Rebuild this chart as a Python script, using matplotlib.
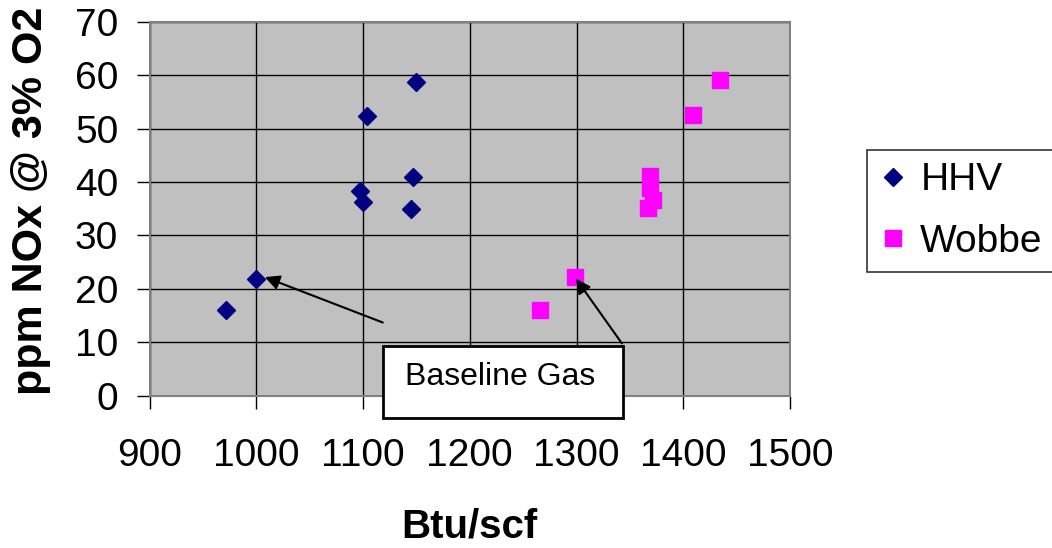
import matplotlib
matplotlib.use("Agg")
import matplotlib.pyplot as plt
from matplotlib.patches import Rectangle

plt.rcParams['font.family'] = ['Liberation Sans', 'DejaVu Sans']

# Data
hhv_x = [972, 1000, 1097, 1100, 1104, 1145, 1147, 1150]
hhv_y = [16.0, 21.9, 38.4, 36.2, 52.3, 34.9, 40.9, 58.8]
wobbe_x = [1266, 1299, 1369, 1369, 1372, 1367, 1409, 1434]
wobbe_y = [16.1, 22.2, 41.2, 38.8, 36.7, 35.1, 52.5, 59.0]
x_ticks = [900, 1000, 1100, 1200, 1300, 1400, 1500]
y_ticks = [0, 10, 20, 30, 40, 50, 60, 70]
series_labels = ["HHV", "Wobbe"]
annotation_text = "Baseline Gas"

W, H = 1052, 548
fig = plt.figure(figsize=(W / 100, H / 100), dpi=100)
ax = fig.add_axes([149.5 / W, 1 - 395.7 / H, (790 - 149.5) / W, (395.7 - 21.7) / H])
ax.set_facecolor('#C0C0C0')

ax.set_xlim(900, 1500)
ax.set_ylim(0, 70)
ax.set_xticks(x_ticks)
ax.set_yticks(y_ticks)
ax.grid(True, color='black', linewidth=1.0)
ax.set_axisbelow(True)
for s in ax.spines.values():
    s.set_color('#808080')
    s.set_linewidth(1.5)

ax.tick_params(axis='x', labelsize=28, length=9.5, width=1, color='black', pad=21)
ax.tick_params(axis='y', labelsize=28, length=9.5, width=1, color='black', pad=13)

ax.plot(hhv_x, hhv_y, linestyle='none', marker='D', markersize=9.2,
        color='#000080', label=series_labels[0], zorder=3)
ax.plot(wobbe_x, wobbe_y, linestyle='none', marker='s', markersize=11.3,
        color='#FF00FF', label=series_labels[1], zorder=3)

ax.set_xlabel('Btu/scf', fontsize=29, fontweight='bold')
ax.set_ylabel('ppm NOx @ 3% O2', fontsize=31, fontweight='bold')
ax.xaxis.set_label_coords(0.5, -0.30)
ax.yaxis.set_label_coords(-0.154, 0.52)

# Arrows
ap = dict(arrowstyle='-|>', color='black', lw=1.5, mutation_scale=22,
          shrinkA=0, shrinkB=0)
ax.annotate('', xy=(1008, 22.2), xytext=(1118.5, 13.7), arrowprops=ap,
            annotation_clip=False, zorder=4)
ax.annotate('', xy=(1299.5, 21.9), xytext=(1342.5, 9.8), arrowprops=ap,
            annotation_clip=False, zorder=4)

# Text box
rect = Rectangle((383 / W, 1 - 418 / H), (623 - 383) / W, (418 - 346) / H,
                 transform=fig.transFigure, facecolor='white',
                 edgecolor='black', linewidth=2, zorder=5)
fig.patches.append(rect)
fig.text(405 / W, 1 - 377 / H, annotation_text, fontsize=23,
         ha='left', va='center', zorder=6)

leg = ax.legend(loc='upper left', bbox_to_anchor=(867 / W, 1 - 150 / H),
                bbox_transform=fig.transFigure, fontsize=28, frameon=True,
                fancybox=False, borderaxespad=0, borderpad=0.32,
                handlelength=0.7, handletextpad=0.35, labelspacing=0.65)
leg.get_frame().set_edgecolor('black')
leg.get_frame().set_linewidth(1.2)

fig.savefig('out.png', dpi=100, facecolor='white')
